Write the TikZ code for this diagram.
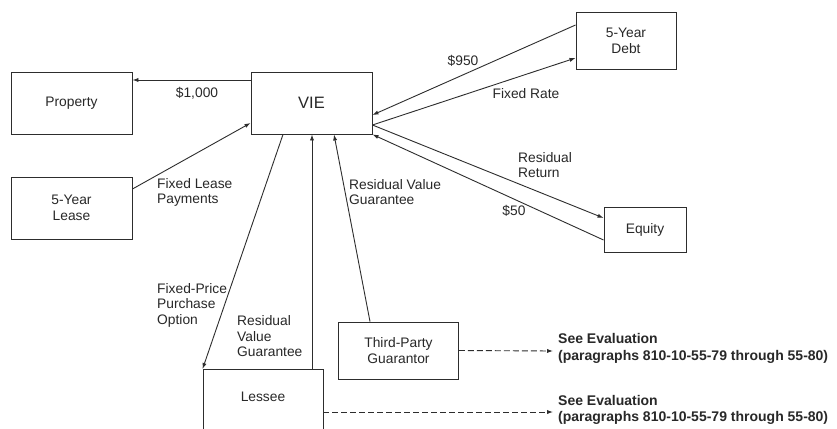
\documentclass[tikz,border=0pt]{standalone}
\usepackage{fontspec}
\setmainfont{Liberation Sans}
\usetikzlibrary{arrows.meta}
\definecolor{lc}{RGB}{45,45,45}
\definecolor{tc}{RGB}{40,40,40}
\tikzset{
  box/.style={draw=lc, line width=0.9pt, inner sep=0pt, align=center, text=tc,
    font=\fontsize{13.8}{16}\selectfont},
  lbl/.style={inner sep=0pt, align=left, text=tc, font=\fontsize{13.8}{15.5}\selectfont},
  clbl/.style={inner sep=0pt, align=center, text=tc, font=\fontsize{13.8}{15.5}\selectfont},
  bold/.style={inner sep=0pt, align=left, text=tc, font=\fontsize{14}{16.5}\selectfont\bfseries},
  conn/.style={draw=lc, line width=0.9pt, -{Latex[length=6pt,width=4.2pt]}},
  dconn/.style={conn, dash pattern=on 6pt off 3pt}
}
\begin{document}
\begin{tikzpicture}[x=1pt,y=-1pt]
\useasboundingbox (0,0) rectangle (837,428);
\clip (0,0) rectangle (837,428);
\fill[white] (0,0) rectangle (837,428);
% boxes
\node[box, minimum width=121pt, minimum height=62pt] (prop) at (71.5,103) {Property};
\node[box, minimum width=121pt, minimum height=62pt, font=\fontsize{16.5}{18}\selectfont] (vie) at (311.5,103) {VIE};
\node[box, minimum width=121pt, minimum height=62pt] (lease) at (71.5,208) {5-Year\\Lease};
\node[box, minimum width=100pt, minimum height=57pt] (debt) at (626,40.5) {5-Year\\Debt};
\node[box, minimum width=82pt, minimum height=45pt] (equity) at (645,229.5) {Equity};
\node[box, minimum width=120pt, minimum height=57pt] (tp) at (398.5,350.5) {Third-Party\\Guarantor};
\node[box, minimum width=120pt, text height=10pt, text depth=40pt, inner ysep=22.5pt, anchor=north] (lessee) at (263,369) {Lessee};
% connectors
\draw[conn] ([yshift=23pt]vie.west) -- ([yshift=23pt]prop.east);
\draw[conn] ([yshift=19pt]lease.east) -- ([yshift=-20pt]vie.west);
\draw[conn] ([yshift=15.5pt]debt.west) -- ([yshift=-12pt]vie.east);
\draw[conn] ([yshift=-22pt]vie.east) -- ([yshift=-17.5pt]debt.west);
\draw[conn] ([yshift=-22pt]vie.east) -- ([yshift=11.5pt]equity.west);
\draw[conn] ([yshift=-10.5pt]equity.west) -- (vie.south east);
\draw[conn] ([xshift=-28.5pt]vie.south) -- (lessee.north west);
\draw[conn] ([xshift=49pt]lessee.north) -- ([xshift=0.5pt]vie.south);
\draw[conn] ([xshift=-28.5pt]tp.north) -- ([xshift=22.5pt]vie.south);
% evaluation texts
\coordinate (e1) at (553,351);
\coordinate (e2) at (553,412);
\node[bold, anchor=west] (see1) at (558,348.5) {See Evaluation\\(paragraphs 810-10-55-79 through 55-80)};
\node[bold, anchor=west] (see2) at (558,410) {See Evaluation\\(paragraphs 810-10-55-79 through 55-80)};
\draw[dconn] (tp.east) -- (e1);
\draw[dconn] ([yshift=-43pt]lessee.north east) -- (e2);
% labels
\node[clbl] (l1000) at (197,93) {\$1,000};
\node[lbl, anchor=west] (lflp) at (157,192.5) {Fixed Lease\\Payments};
\node[clbl] (l950) at (463,61) {\$950};
\node[clbl] (lfr) at (526,94) {Fixed Rate};
\node[lbl, anchor=west] (lrr) at (518,165) {Residual\\Return};
\node[clbl] (l50) at (514,211) {\$50};
\node[lbl, anchor=west] (lrvg) at (349,192) {Residual Value\\Guarantee};
\node[lbl, anchor=west] (lfpo) at (157,305) {Fixed-Price\\Purchase\\Option};
\node[lbl, anchor=west] (lrvg2) at (237,336.5) {Residual\\Value\\Guarantee};
\end{tikzpicture}
\end{document}
